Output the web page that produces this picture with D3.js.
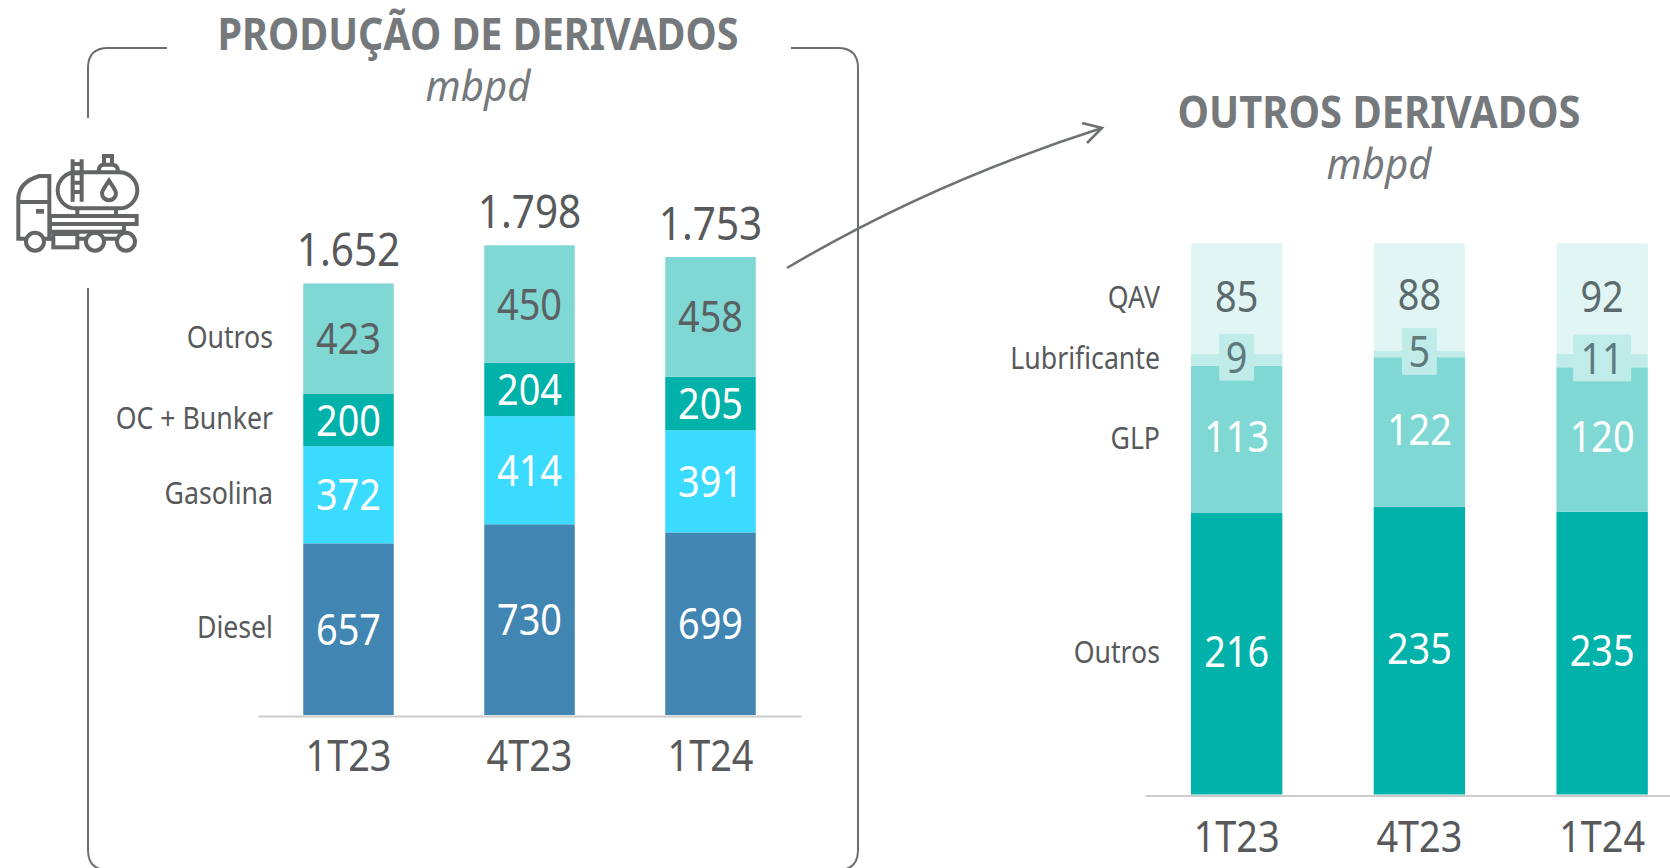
<!DOCTYPE html>
<html>
<head>
<meta charset="utf-8">
<script src="https://cdn.jsdelivr.net/npm/d3@7"></script>
<style>
  html, body { margin: 0; padding: 0; background: #fff; }
  svg { display: block; font-family: "Noto Sans", sans-serif; }
  .axis .domain { stroke: #cccccc; stroke-width: 2; }
</style>
</head>
<body>
<div id="main"></div>
<script>
const periods = ["1T23", "4T23", "1T24"];

const producaoKeys = ["Diesel", "Gasolina", "OC + Bunker", "Outros"];
const diesel = [657, 730, 699];
const gasolina = [372, 414, 391];
const ocBunker = [200, 204, 205];
const outrosProducao = [423, 450, 458];
const totais = ["1.652", "1.798", "1.753"];
const totaisValor = [1652, 1798, 1753];

const outrosKeys = ["Outros", "GLP", "Lubrificante", "QAV"];
const outros = [216, 235, 235];
const glp = [113, 122, 120];
const lubrificante = [9, 5, 11];
const qav = [85, 88, 92];

const producaoColors = ["#4186b3", "#3bdaff", "#00b2a9", "#80d8d4"];
const producaoText = ["#ffffff", "#ffffff", "#ffffff", "#5b6063"];
const outrosColors = ["#00b2a9", "#80d8d4", "#bfebe9", "#e0f5f4"];
const outrosText = ["#ffffff", "#ffffff", "#5f7a7c", "#5b6b6d"];

const textColor = "#58595b";
const titleColor = "#75797c";

const svg = d3
  .select("#main")
  .append("svg")
  .attr("width", 1670)
  .attr("height", 868);

// squeeze the font horizontally, the original face is a condensed one
function squeeze(selection, factor) {
  selection.each(function () {
    const len = this.getComputedTextLength();
    d3.select(this)
      .attr("textLength", len * factor)
      .attr("lengthAdjust", "spacingAndGlyphs");
  });
}

function stackRows(keys, columns) {
  return periods.map((p, i) => {
    const row = { period: p };
    keys.forEach((k, j) => (row[k] = columns[j][i]));
    return row;
  });
}

function drawBars(g, series, x, y, colors, textColors, shift) {
  const layers = g
    .selectAll("g.layer")
    .data(series)
    .enter()
    .append("g")
    .attr("class", "layer")
    .attr("fill", (d, i) => colors[i]);

  layers
    .selectAll("rect")
    .data((d) => d)
    .enter()
    .append("rect")
    .attr("x", (d) => x(d.data.period))
    .attr("width", x.bandwidth())
    .attr("y", (d) => y(d[1]))
    .attr("height", (d) => y(d[0]) - y(d[1]));
}

function drawValues(g, series, x, y, textColors, shift) {
  series.forEach((s, i) => {
    g.append("g")
      .selectAll("text")
      .data(s)
      .enter()
      .append("text")
      .attr("x", (d) => x(d.data.period) + x.bandwidth() / 2)
      .attr("y", (d) => (y(d[0]) + y(d[1])) / 2 + shift)
      .attr("dy", "0.36em")
      .attr("text-anchor", "middle")
      .attr("font-size", 43)
      .attr("fill", textColors[i])
      .text((d) => d.data[s.key])
      .call(squeeze, 0.88);
  });
}

function drawAxis(g, x, y0, dy) {
  const axis = g
    .append("g")
    .attr("class", "axis")
    .attr("transform", `translate(0,${y0 + 1})`)
    .call(d3.axisBottom(x).tickSize(0).tickSizeOuter(0));
  axis
    .selectAll("text")
    .attr("y", dy)
    .attr("dy", 0)
    .attr("font-size", 43)
    .attr("font-family", '"Noto Sans", sans-serif')
    .attr("fill", textColor)
    .call(squeeze, 0.88);
}

function drawSeriesLabels(g, series, y, right, shift) {
  g.append("g")
    .selectAll("text")
    .data(series)
    .enter()
    .append("text")
    .attr("x", right)
    .attr("y", (s) => (y(s[0][0]) + y(s[0][1])) / 2 + shift)
    .attr("dy", "0.36em")
    .attr("text-anchor", "end")
    .attr("font-size", 31)
    .attr("fill", textColor)
    .text((s) => s.key)
    .call(squeeze, 0.86);
}

function drawTitle(text, cx, baseline, width) {
  svg
    .append("text")
    .attr("x", cx)
    .attr("y", baseline)
    .attr("text-anchor", "middle")
    .attr("font-size", 44)
    .attr("font-weight", 700)
    .attr("fill", titleColor)
    .attr("textLength", width)
    .attr("lengthAdjust", "spacingAndGlyphs")
    .text(text);
  svg
    .append("text")
    .attr("x", cx)
    .attr("y", baseline + 51)
    .attr("text-anchor", "middle")
    .attr("font-size", 41)
    .attr("font-style", "italic")
    .attr("fill", titleColor)
    .attr("textLength", 105)
    .attr("lengthAdjust", "spacingAndGlyphs")
    .text("mbpd");
}

// left chart, production in absolute values
const producaoRows = stackRows(producaoKeys, [diesel, gasolina, ocBunker, outrosProducao]);
const producaoSeries = d3.stack().keys(producaoKeys)(producaoRows);

const xLeft = d3.scaleBand().domain(periods).range([258, 801]).paddingInner(0.5).paddingOuter(0.25);
const yLeft = d3.scaleLinear().domain([0, 1798]).range([715, 245.3]);

const left = svg.append("g");
drawBars(left, producaoSeries, xLeft, yLeft, producaoColors);
drawAxis(left, xLeft, 715, 55);
drawValues(left, producaoSeries, xLeft, yLeft, producaoText, 0);
drawSeriesLabels(left, producaoSeries, yLeft, 273, -2);

left
  .append("g")
  .selectAll("text")
  .data(periods)
  .enter()
  .append("text")
  .attr("x", (d) => xLeft(d) + xLeft.bandwidth() / 2)
  .attr("y", (d, i) => yLeft(totaisValor[i]) - 17)
  .attr("text-anchor", "middle")
  .attr("font-size", 46)
  .attr("fill", textColor)
  .text((d, i) => totais[i])
  .call(squeeze, 0.88);

// right chart, same height for every bar
const outrosRows = stackRows(outrosKeys, [outros, glp, lubrificante, qav]);
const outrosSeries = d3.stack().keys(outrosKeys).offset(d3.stackOffsetExpand)(outrosRows);

const xRight = d3.scaleBand().domain(periods).range([1145.3, 1693.5]).paddingInner(0.5).paddingOuter(0.25);
const yRight = d3.scaleLinear().domain([0, 1]).range([794.5, 243.3]);

const right = svg.append("g");
drawBars(right, outrosSeries, xRight, yRight, outrosColors);
drawAxis(right, xRight, 794.5, 56);

// little plate behind the lubricant value
const lubSeries = outrosSeries[2];
right
  .append("g")
  .selectAll("rect")
  .data(lubSeries)
  .enter()
  .append("rect")
  .attr("x", (d) => x0Plate(d))
  .attr("width", (d) => (d.data.Lubrificante > 9 ? 58 : 35))
  .attr("y", (d) => (yRight(d[0]) + yRight(d[1])) / 2 - 26)
  .attr("height", 46.7)
  .attr("fill", "#bfebe9");

function x0Plate(d) {
  const w = d.data.Lubrificante > 9 ? 58 : 35;
  return xRight(d.data.period) + xRight.bandwidth() / 2 - w / 2;
}

drawValues(right, outrosSeries, xRight, yRight, outrosText, -2.5);
drawSeriesLabels(right, outrosSeries, yRight, 1160, -2);

drawTitle("PRODUÇÃO DE DERIVADOS", 478, 50, 521);
drawTitle("OUTROS DERIVADOS", 1379, 128, 403);

// frame around the left chart, open behind the title and the icon
svg
  .append("path")
  .attr("fill", "none")
  .attr("stroke", "#6b6e70")
  .attr("stroke-width", 2)
  .attr(
    "d",
    "M167,48 H108 Q88,48 88,68 V118 M88,288 V850 Q88,870 108,870 H838 Q858,870 858,850 V68 Q858,48 838,48 H791"
  );

// arrow between the charts
const arrow = svg.append("g").attr("fill", "none").attr("stroke", "#6f7274").attr("stroke-width", 2.6);
arrow.append("path").attr("d", "M787,268 Q930,183 1102,128");
arrow.append("path").attr("d", "M1082,123 L1102,128 L1087,143");

// truck icon, drawn in zoom units
const icon = svg
  .append("g")
  .attr("transform", "translate(0,140) scale(0.3333)")
  .attr("fill", "none")
  .attr("stroke", "#636567")
  .attr("stroke-width", 12);

icon.append("rect").attr("x", 173).attr("y", 97).attr("width", 239).attr("height", 108).attr("rx", 54);
icon.append("path").attr("d", "M218,58 V185 M245,58 V185 M218,72 H245 M218,100 H245 M218,128 H245 M218,156 H245");
icon.append("path").attr("d", "M312,72 V48 H336 V72 M296,95 Q296,74 312,74 H336 Q354,74 354,95");
icon.append("path").attr("d", "M327,122 C312,145 306,152 306,160 A21,21 0 0 0 348,160 C348,152 342,145 327,122 Z");
icon.append("path").attr("d", "M232,205 V228 M348,205 V228");
icon.append("rect").attr("x", 150).attr("y", 228).attr("width", 260).attr("height", 24);
icon.append("path").attr("d", "M78,296 H55 V172 Q60,125 118,108 H148 V296 H160 M55,186 H148");
icon.append("rect").attr("x", 108).attr("y", 207).attr("width", 24).attr("height", 14).attr("fill", "#636567").attr("stroke", "none");
icon.append("path").attr("d", "M150,252 V275 H372 V252");
icon.append("path").attr("d", "M132,296 H160 M232,296 H258 M312,296 H350");
icon.append("rect").attr("x", 160).attr("y", 282).attr("width", 72).attr("height", 40);
[105, 285, 378].forEach((cx) => {
  icon.append("circle").attr("cx", cx).attr("cy", 305).attr("r", 27).attr("fill", "#fff");
});
</script>
</body>
</html>
